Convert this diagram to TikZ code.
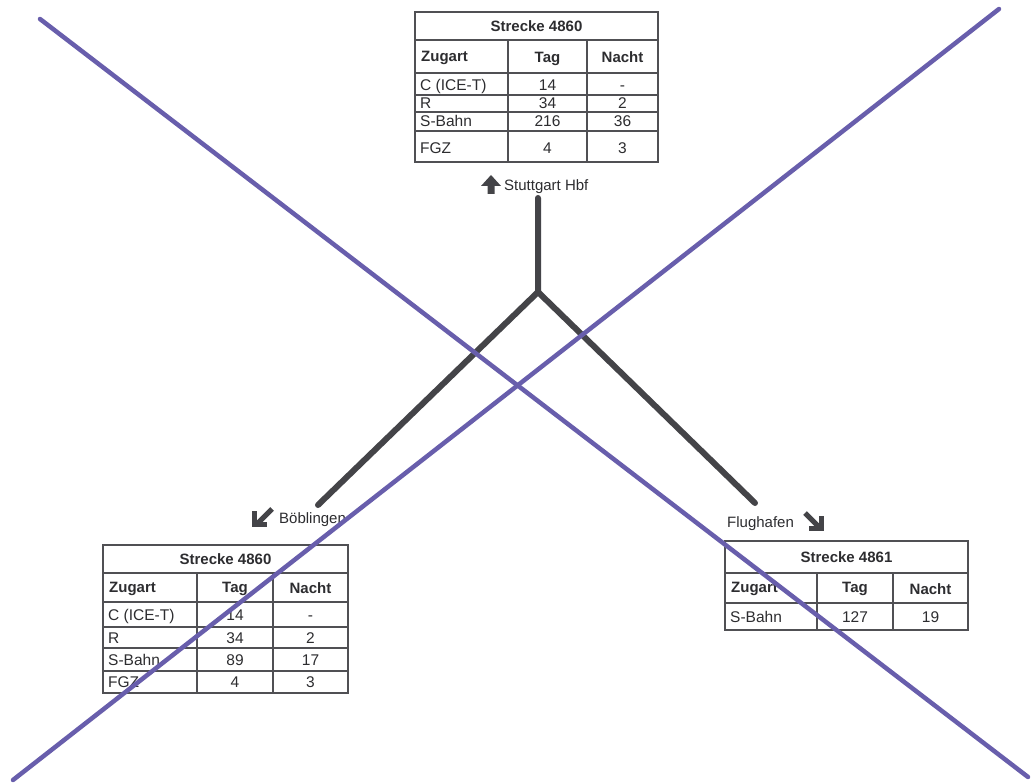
\documentclass[tikz,border=0pt]{standalone}
\usepackage{fontspec}
\setmainfont{Liberation Sans}
\definecolor{tabline}{RGB}{80,80,84}
\definecolor{txt}{RGB}{45,45,48}
\definecolor{trackgray}{RGB}{68,68,72}
\definecolor{crossblue}{RGB}{104,94,172}
\tikzset{
  grid/.style={draw=tabline, line width=1.6pt},
  outer/.style={draw=tabline, line width=2.2pt},
  cell/.style={font=\fontsize{15.5}{17}\selectfont, text=txt, inner sep=0pt,
    text height=11pt, text depth=0pt},
  head/.style={cell, font=\fontsize{15}{17}\selectfont\bfseries},
  lbl/.style={font=\fontsize{15}{17}\selectfont, text=txt, inner sep=0pt, anchor=west,
    text height=11pt, text depth=0pt},
  track/.style={draw=trackgray, line width=6pt, line cap=round},
  cross/.style={draw=crossblue, line width=4.5pt, line cap=round},
  darrow/.style={draw=trackgray, line width=5pt},
}
\begin{document}
\begin{tikzpicture}[x=1pt,y=-1pt]
\useasboundingbox (0,0) rectangle (1033,783);
\fill[white] (0,0) rectangle (1033,783);

% ---------- top table ----------
\draw[grid] (415,40) -- (658,40) (415,73) -- (658,73) (415,95) -- (658,95)
  (415,112) -- (658,112) (415,131) -- (658,131)
  (508,40) -- (508,162) (587,40) -- (587,162);
\draw[outer] (415,12) rectangle (658,162);
\node[head] (t1title) at (536.5,26) {Strecke 4860};
\node[head, anchor=west] (t1h1) at (421,56) {Zugart};
\node[head] (t1h2) at (547.5,57) {Tag};
\node[head] (t1h3) at (622.5,57) {Nacht};
\node[cell, anchor=west] (t1a1) at (420,85) {C (ICE-T)};
\node[cell] (t1a2) at (547.5,85) {14};
\node[cell] (t1a3) at (622.5,85) {-};
\node[cell, anchor=west] (t1b1) at (420,103.5) {R};
\node[cell] (t1b2) at (547.5,103.5) {34};
\node[cell] (t1b3) at (622.5,103.5) {2};
\node[cell, anchor=west] (t1c1) at (420,121.5) {S-Bahn};
\node[cell] (t1c2) at (547.5,121.5) {216};
\node[cell] (t1c3) at (622.5,121.5) {36};
\node[cell, anchor=west] (t1d1) at (420,148) {FGZ};
\node[cell] (t1d2) at (547.5,148) {4};
\node[cell] (t1d3) at (622.5,148) {3};

% ---------- bottom-left table ----------
\draw[grid] (103,573) -- (348,573) (103,602) -- (348,602) (103,627) -- (348,627)
  (103,648) -- (348,648) (103,671) -- (348,671)
  (197,573) -- (197,693) (273,573) -- (273,693);
\draw[outer] (103,545) rectangle (348,693);
\node[head] (t2title) at (225.5,559) {Strecke 4860};
\node[head, anchor=west] (t2h1) at (109,587) {Zugart};
\node[head] (t2h2) at (235,587) {Tag};
\node[head] (t2h3) at (310.5,588) {Nacht};
\node[cell, anchor=west] (t2a1) at (108,614.5) {C (ICE-T)};
\node[cell] (t2a2) at (235,614.5) {14};
\node[cell] (t2a3) at (310.5,614.5) {-};
\node[cell, anchor=west] (t2b1) at (108,637.5) {R};
\node[cell] (t2b2) at (235,637.5) {34};
\node[cell] (t2b3) at (310.5,637.5) {2};
\node[cell, anchor=west] (t2c1) at (108,659.5) {S-Bahn};
\node[cell] (t2c2) at (235,659.5) {89};
\node[cell] (t2c3) at (310.5,659.5) {17};
\node[cell, anchor=west] (t2d1) at (108,682) {FGZ};
\node[cell] (t2d2) at (235,682) {4};
\node[cell] (t2d3) at (310.5,682) {3};

% ---------- bottom-right table ----------
\draw[grid] (725,573) -- (968,573) (725,603) -- (968,603)
  (817,573) -- (817,630) (893,573) -- (893,630);
\draw[outer] (725,541) rectangle (968,630);
\node[head] (t3title) at (846.5,557) {Strecke 4861};
\node[head, anchor=west] (t3h1) at (731,587) {Zugart};
\node[head] (t3h2) at (855,587) {Tag};
\node[head] (t3h3) at (930.5,589) {Nacht};
\node[cell, anchor=west] (t3a1) at (730,616.5) {S-Bahn};
\node[cell] (t3a2) at (855,616.5) {127};
\node[cell] (t3a3) at (930.5,616.5) {19};

% ---------- track ----------
\coordinate (top) at (538,198);
\coordinate (junc) at (538,292);
\coordinate (bend) at (318,505);
\coordinate (fend) at (755,503);
\draw[track, line join=round] (top) -- (junc) -- (bend);
\draw[track] (junc) -- (fend);

% ---------- labels with arrows ----------
\node[lbl] (stg) at (504,185) {Stuttgart Hbf};
\node[lbl] (boe) at (279,518) {Böblingen};
\node[lbl] (flu) at (727,522) {Flughafen};

% up arrow
\fill[trackgray] (481,186) -- (491,175) -- (501,186) -- (494.5,186) -- (494.5,194) -- (487.5,194) -- (487.5,186) -- cycle;
% down-left arrow
\draw[darrow, line cap=butt] (272,509) -- (257,524);
\draw[darrow, miter limit=10] (254.5,511) -- (254.5,524) -- (267,524);
% down-right arrow
\draw[darrow, line cap=butt] (805,513) -- (820,528);
\draw[darrow, miter limit=10] (809,528) -- (821.5,528) -- (821.5,515.5);

% ---------- crossing-out lines ----------
\coordinate (c1a) at (40,19);
\coordinate (c1b) at (1028,777);
\coordinate (c2a) at (999,9);
\coordinate (c2b) at (13,780);
\draw[cross] (c1a) -- (c1b);
\draw[cross] (c2a) -- (c2b);
\end{tikzpicture}
\end{document}
